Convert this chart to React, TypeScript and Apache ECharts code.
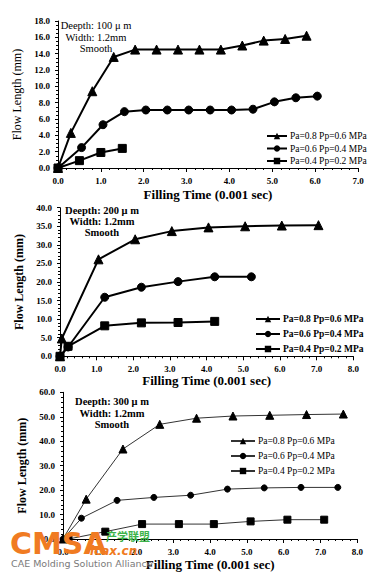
import React, { useEffect, useRef } from "react";
import * as echarts from "echarts";

const LEGEND_NAMES = ["Pa=0.8 Pp=0.6 MPa", "Pa=0.6 Pp=0.4 MPa", "Pa=0.4 Pp=0.2 MPa"];
const X_TITLE = "Filling Time (0.001 sec)";
const Y_TITLE = "Flow Length (mm)";

// Chart 1: depth 100 um
const c1TriX = [0, 0.3, 0.8, 1.3, 1.8, 2.3, 2.8, 3.3, 3.8, 4.3, 4.8, 5.3, 5.8];
const c1TriY = [0, 4.3, 9.4, 13.6, 14.5, 14.5, 14.5, 14.5, 14.5, 15.0, 15.6, 15.8, 16.2];
const c1CirX = [0, 0.55, 1.05, 1.55, 2.05, 2.55, 3.05, 3.55, 4.05, 4.55, 5.05, 5.55, 6.05];
const c1CirY = [0, 2.5, 5.3, 6.9, 7.1, 7.1, 7.1, 7.1, 7.1, 7.2, 8.1, 8.6, 8.8];
const c1SqX = [0, 0.5, 1.0, 1.5];
const c1SqY = [0, 0.9, 1.9, 2.4];

// Chart 2: depth 200 um
const c2TriX = [0, 0.05, 1.05, 2.05, 3.05, 4.05, 5.05, 6.05, 7.05];
const c2TriY = [0, 4.8, 26.1, 31.5, 33.7, 34.7, 35.0, 35.2, 35.3];
const c2CirX = [0, 0.22, 1.22, 2.22, 3.22, 4.22, 5.22];
const c2CirY = [0, 2.5, 15.9, 18.6, 20.1, 21.4, 21.4];
const c2SqX = [0, 0.22, 1.22, 2.22, 3.22, 4.22];
const c2SqY = [0, 2.7, 8.2, 9.0, 9.1, 9.4];

// Chart 3: depth 300 um
const c3TriX = [0, 0.63, 1.63, 2.63, 3.63, 4.62, 5.62, 6.62, 7.62];
const c3TriY = [0, 16.3, 36.8, 46.9, 49.4, 50.3, 50.6, 50.9, 51.1];
const c3CirX = [0, 0.5, 1.47, 2.47, 3.47, 4.47, 5.47, 6.47, 7.47];
const c3CirY = [0, 8.5, 15.8, 17.0, 17.9, 20.4, 20.9, 21.1, 21.1];
const c3SqX = [0.15, 1.15, 2.15, 3.15, 4.1, 5.1, 6.1, 7.1];
const c3SqY = [0, 3.0, 6.1, 6.1, 6.1, 7.2, 7.9, 7.9];

const c1Notes = ["Deepth: 100 \u03bc m", "Width: 1.2mm", "Smooth"];
const c2Notes = ["Deepth: 200 \u03bc m", "Width: 1.2mm", "Smooth"];
const c3Notes = ["Deepth: 300 \u03bc m", "Width: 1.2mm", "Smooth"];

const zip = (xs: number[], ys: number[]) => xs.map((x, i) => [x, ys[i]]);

const SERIF = "'Liberation Serif', 'DejaVu Serif', serif";

type Cfg = {
  grid: { left: number; top: number; width: number; height: number };
  xMax: number;
  yMax: number;
  yInterval: number;
  yMinorSplit: number;
  data: number[][][];
  symbolSizes: number[];
  lineWidth: number;
  lineColor: string;
  legend: { left: number; top: number; itemGap: number; itemWidth: number; bold: boolean };
  notes: string[];
  noteX: number;
  noteY: number[];
  noteBold: boolean;
  yNameGap: number;
  xNameGap: number;
  yNameBold: boolean;
  extra?: any[];
};

function makeOption(c: Cfg): any {
  const symbols = ["triangle", "circle", "rect"];
  return {
    animation: false,
    grid: { ...c.grid, containLabel: false },
    xAxis: {
      type: "value",
      min: 0,
      max: c.xMax,
      interval: 1,
      name: X_TITLE,
      nameLocation: "middle",
      nameGap: c.xNameGap,
      nameTextStyle: { fontFamily: SERIF, fontWeight: "bold", fontSize: 13, color: "#000" },
      axisLine: { show: true, onZero: false, lineStyle: { color: "#000", width: 1 } },
      axisTick: { show: true, length: 4, lineStyle: { color: "#000" } },
      minorTick: { show: true, splitNumber: 5, length: 2, lineStyle: { color: "#000" } },
      splitLine: { show: false },
      axisLabel: {
        fontFamily: SERIF,
        fontWeight: "bold",
        fontSize: 9,
        color: "#000",
        margin: 8,
        formatter: (v: number) => v.toFixed(1),
      },
    },
    yAxis: {
      type: "value",
      min: 0,
      max: c.yMax,
      interval: c.yInterval,
      name: Y_TITLE,
      nameLocation: "middle",
      nameRotate: 90,
      nameGap: c.yNameGap,
      nameTextStyle: {
        fontFamily: SERIF,
        fontWeight: c.yNameBold ? "bold" : "normal",
        fontSize: 12,
        color: "#000",
      },
      axisLine: { show: true, onZero: false, lineStyle: { color: "#000", width: 1 } },
      axisTick: { show: true, length: 3, lineStyle: { color: "#000" } },
      minorTick: { show: true, splitNumber: c.yMinorSplit, length: 2, lineStyle: { color: "#000" } },
      splitLine: { show: false },
      axisLabel: {
        fontFamily: SERIF,
        fontWeight: "bold",
        fontSize: 9,
        color: "#000",
        margin: 8,
        formatter: (v: number) => v.toFixed(1),
      },
    },
    legend: {
      show: true,
      orient: "vertical",
      left: c.legend.left,
      top: c.legend.top,
      itemWidth: c.legend.itemWidth,
      itemHeight: 8,
      itemGap: c.legend.itemGap,
      padding: 0,
      data: LEGEND_NAMES,
      textStyle: {
        fontFamily: SERIF,
        fontSize: 9.5,
        fontWeight: c.legend.bold ? "bold" : "normal",
        color: "#000",
        padding: [0, 0, 0, -2],
      },
    },
    series: c.data.map((d, i) => ({
      type: "line",
      name: LEGEND_NAMES[i],
      data: d,
      symbol: symbols[i],
      symbolSize: c.symbolSizes[i],
      showSymbol: true,
      lineStyle: { color: c.lineColor, width: c.lineWidth },
      itemStyle: { color: "#000", borderColor: "#000" },
      z: 2 + i,
    })),
    graphic: [
      ...c.notes.map((t, i) => ({
        type: "text",
        style: {
          text: t,
          x: c.noteX,
          y: c.noteY[i],
          textAlign: "center",
          textVerticalAlign: "middle",
          fontFamily: SERIF,
          fontSize: 10.5,
          fontWeight: c.noteBold ? "bold" : "normal",
          fill: "#000",
        },
      })),
      ...(c.extra || []),
    ],
  };
}

const configs: Cfg[] = [
  {
    grid: { left: 58, top: 21, width: 300, height: 147 },
    xMax: 7,
    yMax: 18,
    yInterval: 2,
    yMinorSplit: 4,
    data: [zip(c1TriX, c1TriY), zip(c1CirX, c1CirY), zip(c1SqX, c1SqY)],
    symbolSizes: [9, 8, 8],
    lineWidth: 2,
    lineColor: "#000",
    legend: { left: 266, top: 131, itemGap: 2.5, itemWidth: 20, bold: false },
    notes: c1Notes,
    noteX: 96,
    noteY: [25, 37, 48],
    noteBold: false,
    yNameGap: 30,
    xNameGap: 20,
    yNameBold: false,
  },
  {
    grid: { left: 60, top: 207.7, width: 293.3, height: 148.6 },
    xMax: 8,
    yMax: 40,
    yInterval: 5,
    yMinorSplit: 5,
    data: [zip(c2TriX, c2TriY), zip(c2CirX, c2CirY), zip(c2SqX, c2SqY)],
    symbolSizes: [9, 8, 8],
    lineWidth: 2,
    lineColor: "#000",
    legend: { left: 255, top: 314, itemGap: 5, itemWidth: 24, bold: true },
    notes: c2Notes,
    noteX: 102,
    noteY: [210, 221, 232],
    noteBold: true,
    yNameGap: 34,
    xNameGap: 16,
    yNameBold: true,
  },
  {
    grid: { left: 63, top: 392.3, width: 294.3, height: 146.7 },
    xMax: 8,
    yMax: 60,
    yInterval: 10,
    yMinorSplit: 5,
    data: [zip(c3TriX, c3TriY), zip(c3CirX, c3CirY), zip(c3SqX, c3SqY)],
    symbolSizes: [8, 6, 7],
    lineWidth: 1,
    lineColor: "#333",
    legend: { left: 230, top: 436, itemGap: 5, itemWidth: 24, bold: false },
    notes: c3Notes,
    noteX: 112,
    noteY: [401, 413, 424],
    noteBold: true,
    yNameGap: 35,
    xNameGap: 19,
    yNameBold: true,
    extra: [
      {
        type: "text",
        z: 100,
        style: {
          text: "CMSA",
          x: 10,
          y: 543,
          textVerticalAlign: "middle",
          fontFamily: "'DejaVu Sans', sans-serif",
          fontWeight: "bold",
          fontSize: 30,
          fill: "#f07b22",
        },
      },
      {
        type: "text",
        z: 100,
        style: {
          text: "icax.cn",
          x: 90,
          y: 551,
          textVerticalAlign: "middle",
          fontFamily: "'DejaVu Sans', sans-serif",
          fontWeight: "bold",
          fontStyle: "italic",
          fontSize: 12,
          fill: "#f07b22",
        },
      },
      {
        type: "text",
        z: 100,
        style: {
          text: "产学联盟",
          x: 106,
          y: 536,
          textVerticalAlign: "middle",
          fontFamily: "'Noto Sans CJK SC', sans-serif",
          fontWeight: "bold",
          fontSize: 11,
          fill: "#3db34a",
        },
      },
      {
        type: "text",
        z: 100,
        style: {
          text: "CAE Molding Solution Alliance",
          x: 11,
          y: 563,
          textVerticalAlign: "middle",
          fontFamily: "'DejaVu Sans', sans-serif",
          fontSize: 9.5,
          fill: "#7a7a7a",
        },
      },
    ],
  },
];

function ChartLayer({ cfg }: { cfg: Cfg }) {
  const ref = useRef<HTMLDivElement | null>(null);
  useEffect(() => {
    if (!ref.current) return;
    const chart = echarts.init(ref.current, undefined, { renderer: "svg" });
    chart.setOption(makeOption(cfg));
    return () => chart.dispose();
  }, [cfg]);
  return (
    <div
      ref={ref}
      style={{ position: "absolute", left: 0, top: 0, width: 378, height: 578 }}
    />
  );
}

export default function App() {
  return (
    <div
      style={{
        position: "fixed",
        left: 0,
        top: 0,
        width: 378,
        height: 578,
        background: "#fff",
        overflow: "hidden",
      }}
    >
      {configs.map((c, i) => (
        <ChartLayer key={i} cfg={c} />
      ))}
    </div>
  );
}
